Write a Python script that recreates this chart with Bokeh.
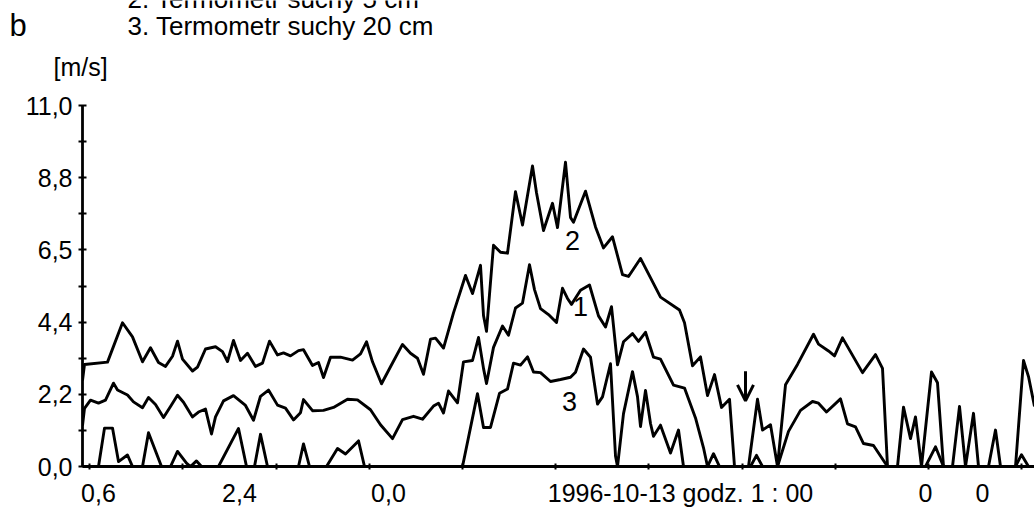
from bokeh.plotting import figure
from bokeh.layouts import column
from bokeh.models import Range1d, FixedTicker, Label, Arrow, OpenHead
from bokeh.embed import file_html
from bokeh.resources import INLINE

# ---- data (time step index, wind speed in m/s) ----
t2 = [0, 2, 25, 40, 50, 60, 68, 76, 83, 90, 95, 100, 110, 115, 123, 133, 140, 145, 151, 158,
      165, 173, 180, 187, 195, 201, 208, 216, 221, 230, 236, 241, 248, 258, 270, 278, 284, 290,
      299, 308, 320, 328, 335, 341, 348, 353, 361, 371, 383, 390, 398, 401, 404, 411, 418, 425,
      433, 440, 450, 454, 461, 470, 475, 483, 488, 491, 503, 513, 521, 530, 540, 546, 558, 578,
      597, 602, 610, 618, 625, 632, 639, 647, 652, 666, 675, 680, 688, 695, 703, 715, 731, 736,
      746, 752, 760, 780, 793, 800, 805, 815, 821, 828, 833, 839, 849, 855, 861, 870, 877, 883,
      891, 896, 906, 913, 918, 933, 941, 946, 952]
v2 = [2.62, 3.11, 3.18, 4.38, 3.95, 3.19, 3.62, 3.17, 3.05, 3.36, 3.82, 3.27, 2.91, 3.03, 3.58,
      3.65, 3.50, 3.20, 3.84, 3.23, 3.45, 3.05, 3.15, 3.82, 3.40, 3.46, 3.37, 3.53, 3.56, 3.08,
      3.17, 2.71, 3.33, 3.33, 3.24, 3.43, 3.80, 3.19, 2.52, 3.04, 3.72, 3.45, 3.30, 2.81, 3.88,
      3.91, 3.61, 4.68, 5.82, 5.27, 6.13, 4.60, 4.12, 6.74, 6.53, 6.50, 8.37, 7.36, 9.16, 8.34,
      7.19, 8.02, 7.28, 9.27, 7.59, 7.44, 8.39, 7.30, 6.66, 7.00, 5.85, 5.79, 6.34, 5.16, 4.77,
      4.38, 3.07, 3.34, 2.16, 2.80, 1.80, 2.05, 0.0, 0.0, 2.05, 1.11, 1.27, 0.0, 2.49, 3.11,
      4.03, 3.73, 3.52, 3.37, 3.92, 2.86, 3.41, 2.99, 0.0, 0.0, 1.81, 0.85, 1.51, 0.0, 2.88,
      2.55, 0.0, 0.0, 1.83, 0.0, 1.62, 0.0, 0.0, 1.11, 0.0, 0.0, 3.23, 2.74, 1.83]

t1 = [0, 2, 8, 16, 23, 31, 35, 45, 51, 60, 66, 73, 81, 88, 95, 101, 110, 116, 123, 129, 133,
      141, 151, 163, 171, 178, 186, 195, 203, 211, 218, 221, 230, 241, 251, 265, 275, 288, 298,
      310, 320, 331, 340, 351, 356, 361, 366, 375, 381, 390, 396, 401, 404, 411, 420, 426, 433,
      440, 447, 452, 458, 466, 474, 480, 485, 489, 498, 507, 516, 523, 529, 535, 541, 550, 556,
      563, 571, 578, 591, 602, 613, 621, 625, 631, 637, 668, 674, 680, 695, 706, 718, 730, 736,
      744, 758, 765, 773, 781, 791, 805, 843, 853, 861, 933, 939, 946, 952]
v1 = [1.25, 1.77, 2.02, 1.93, 2.02, 2.54, 2.33, 2.18, 1.97, 1.79, 2.10, 1.89, 1.49, 1.83, 2.17,
      1.96, 1.51, 1.66, 1.75, 0.99, 1.51, 2.00, 2.16, 1.86, 1.41, 2.14, 2.33, 1.87, 1.78, 1.42,
      1.64, 2.04, 1.70, 1.71, 1.80, 2.05, 2.03, 1.73, 1.27, 0.85, 1.43, 1.53, 1.44, 1.84, 1.93,
      1.63, 2.30, 1.94, 3.19, 3.23, 3.93, 2.99, 2.53, 3.63, 4.28, 4.00, 4.83, 4.98, 6.15, 5.39,
      4.81, 4.63, 4.39, 5.43, 5.12, 4.94, 5.37, 5.53, 4.59, 4.25, 4.87, 3.10, 3.80, 4.05, 3.81,
      4.09, 3.33, 3.27, 2.48, 2.39, 1.48, 0.57, 0.0, 0.39, 0.0, 0.0, 0.34, 0.0, 0.0, 1.07, 1.71,
      1.98, 1.93, 1.66, 2.06, 1.30, 1.21, 0.70, 0.64, 0.0, 0.0, 0.60, 0.0, 0.0, 0.36, 0.0, 0.0]

t3 = [0, 16, 22, 30, 36, 45, 50, 60, 66, 79, 88, 95, 104, 108, 114, 119, 136, 156, 164, 172,
      178, 185, 216, 221, 227, 244, 255, 263, 276, 282, 380, 395, 401, 408, 417, 425, 431, 438,
      445, 451, 458, 468, 478, 488, 493, 501, 508, 515, 520, 528, 533, 535, 541, 550, 555, 558,
      563, 568, 571, 578, 588, 596, 601, 952]
v3 = [0.0, 0.0, 1.17, 1.17, 0.15, 0.35, 0.0, 0.0, 1.03, 0.0, 0.0, 0.46, 0.10, 0.0, 0.17, 0.0,
      0.0, 1.16, 0.0, 0.0, 0.98, 0.0, 0.0, 0.69, 0.0, 0.0, 0.55, 0.38, 0.78, 0.0, 0.0, 2.22,
      1.19, 1.19, 2.23, 2.36, 3.15, 3.09, 3.34, 2.88, 2.86, 2.59, 2.65, 2.72, 2.87, 3.58, 3.33,
      1.90, 2.12, 3.13, 0.32, 0.0, 1.61, 2.89, 2.13, 1.22, 2.32, 1.31, 0.92, 1.26, 0.41, 1.11,
      0.0, 0.0]

y_ticks = [0.0, 2.2, 4.4, 6.6, 8.8, 11.0]
y_tick_labels = ["0,0", "2,2", "4,4", "6,5", "8,8", "11,0"]
y_minor = [1.1, 3.3, 5.5, 7.7, 9.9]

x_label_pos = [16, 157, 306, 598, 843, 900]
x_tick_labels = ["0,6", "2,4", "0,0", "1996-10-13 godz. 1 : 00", "0", "0"]
x_marks = [7, 100, 194, 287, 380, 473, 566, 660, 753, 846, 939]

series_labels = ["1", "2", "3"]
series_label_x = [498, 490, 487]
series_label_y = [4.88, 6.9, 1.98]

header_texts = ["2. Termometr suchy 5 cm", "3. Termometr suchy 20 cm", "b", "[m/s]"]
header_x = [127, 127, 9, 53]
header_base = [-2, 25, 25, 66]
header_sizes = ["26px", "26px", "31px", "25px"]

FONT = "Liberation Sans"
HEADER_H = 85

# ---- header strip (texts above the plot) ----
head = figure(width=1034, height=HEADER_H, output_backend="svg", toolbar_location=None,
              x_range=Range1d(0, 1034), y_range=Range1d(HEADER_H, 0),
              x_axis_type=None, y_axis_type=None,
              min_border_left=0, min_border_right=0, min_border_top=0, min_border_bottom=0)
head.outline_line_color = None
head.background_fill_color = "white"
head.border_fill_color = "white"
for txt, hx, hy, hs in zip(header_texts, header_x, header_base, header_sizes):
    head.add_layout(Label(x=hx, y=hy, text=txt, text_baseline="alphabetic",
                          text_font=FONT, text_font_size=hs, text_color="black"))

# ---- main chart ----
p = figure(width=1034, height=517 - HEADER_H, output_backend="svg", toolbar_location=None,
           x_range=Range1d(0, 952), y_range=Range1d(0, 11),
           min_border_left=82, min_border_right=0, min_border_top=105 - HEADER_H,
           min_border_bottom=51)
p.outline_line_color = None
p.xgrid.visible = False
p.ygrid.visible = False
p.background_fill_color = "white"
p.border_fill_color = "white"

# keep each figure's own frame (no cross-figure frame alignment)
for f in (head, p):
    if "frame_align" in f.properties():
        f.frame_align = False

for tt, vv in ((t1, v1), (t2, v2), (t3, v3)):
    p.line(tt, vv, line_color="black", line_width=2.9, line_join="round")

# y axis
ya = p.yaxis[0]
ya.ticker = FixedTicker(ticks=y_ticks, minor_ticks=y_minor)
ya.major_label_overrides = dict(zip(y_ticks, y_tick_labels))
ya.axis_line_width = 2.8
ya.axis_line_color = "black"
ya.major_tick_in = 4
ya.major_tick_out = 4
ya.minor_tick_in = 4
ya.minor_tick_out = 4
ya.major_tick_line_width = 2
ya.minor_tick_line_width = 2
ya.major_label_standoff = 6
ya.major_label_text_font = FONT
ya.major_label_text_font_size = "25px"
ya.major_label_text_color = "black"

# x axis
xa = p.xaxis[0]
xa.ticker = FixedTicker(ticks=x_label_pos, minor_ticks=x_marks)
xa.major_label_overrides = dict(zip(x_label_pos, x_tick_labels))
xa.axis_line_width = 2.8
xa.axis_line_color = "black"
xa.major_tick_in = 0
xa.major_tick_out = 0
xa.minor_tick_in = 3
xa.minor_tick_out = 3
xa.minor_tick_line_width = 2
xa.major_label_standoff = 9
xa.major_label_text_font = FONT
xa.major_label_text_font_size = "25px"
xa.major_label_text_color = "black"

for s, sx, sy in zip(series_labels, series_label_x, series_label_y):
    p.add_layout(Label(x=sx, y=sy, text=s, text_align="center", text_baseline="middle",
                       text_font=FONT, text_font_size="27px", text_color="black"))

# arrow marker
p.add_layout(Arrow(end=OpenHead(size=16, line_width=3), x_start=663, y_start=2.9,
                   x_end=663, y_end=2.0, line_width=3, line_color="black"))

layout = column(head, p, spacing=0)
open("out.html", "w").write(file_html(layout, INLINE))
